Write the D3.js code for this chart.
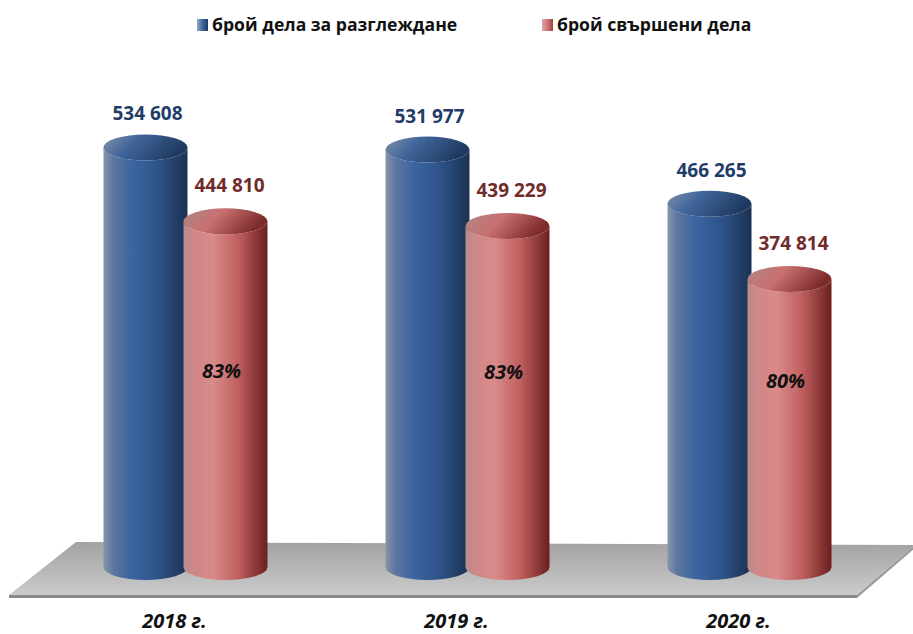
<!DOCTYPE html>
<html>
<head>
<meta charset="utf-8">
<script src="https://cdn.jsdelivr.net/npm/d3@7"></script>
<style>
  body { margin: 0; background: #fff; }
  text { font-family: "Open Sans", "Noto Sans", sans-serif; font-weight: bold; }
</style>
</head>
<body>
<div id="graph"></div>
<script>
var w = 913, h = 634

var years = ['2018 г.', '2019 г.', '2020 г.']
var pending = [534608, 531977, 466265]
var resolved = [444810, 439229, 374814]
var shares = ['83%', '83%', '80%']
var seriesNames = ['брой дела за разглеждане', 'брой свършени дела']

var fmt = d3.formatLocale({decimal: ',', thousands: ' ', grouping: [3], currency: ['', '']}).format(',')

var svg = d3.select('#graph').append('svg')
    .attr('width', w).attr('height', h)

var defs = svg.append('defs')

function grad(id, stops, x2, y2){
  var g = defs.append('linearGradient').attr('id', id)
      .attr('x1', 0).attr('y1', 0).attr('x2', x2).attr('y2', y2)
  stops.forEach(function(s){
    g.append('stop').attr('offset', s[0]).attr('stop-color', s[1])
  })
}
grad('blueBody', [[0, '#8594aa'], [0.12, '#5c76a0'], [0.35, '#3a64a0'], [0.65, '#2e5388'], [1, '#1b3152']], 1, 0)
grad('blueTop', [[0, '#8391a8'], [0.4, '#41669c'], [1, '#1f3a60']], 1, 0.3)
grad('redBody', [[0, '#b88c8c'], [0.12, '#cf8787'], [0.35, '#d98a8a'], [0.65, '#c05f5f'], [1, '#6b1f1f']], 1, 0)
grad('redTop', [[0, '#ad8686'], [0.45, '#c97070'], [1, '#7d2a2a']], 1, 0.3)
grad('floorFill', [[0, '#a2a2a2'], [1, '#cbcbcb']], 0, 1)
grad('legBlue', [[0, '#9aa9c0'], [0.5, '#3c66a2'], [1, '#1f3a60']], 1, 0)
grad('legRed', [[0, '#e0a5a5'], [0.5, '#d07878'], [1, '#a04040']], 1, 0)

// scales
var x = d3.scalePoint().domain(years).range([44.5, 890.5]).padding(0.5)
var y = d3.scaleLinear().domain([0, 600000]).range([587.6, 93.6])
var floorY = 567, rx = 42, ry = 13, off = 40

// floor
var floor = svg.append('g')
floor.append('path')
    .attr('d', 'M76,542 L915,545 L857,595 L9,595 Z')
    .attr('fill', 'url(#floorFill)')
floor.append('path')
    .attr('d', 'M9,595 L857,595 L857,598 L9,598 Z')
    .attr('fill', '#8a8a8a')
floor.append('path')
    .attr('d', 'M857,595 L915,545 L915,548 L857,598 Z')
    .attr('fill', '#9a9a9a')

function cylinder(g, cx, top, body, cap){
  var l = cx - rx, r = cx + rx
  g.append('path')
      .attr('d', 'M' + l + ',' + top + ' L' + l + ',' + floorY +
        ' A' + rx + ',' + ry + ' 0 0 0 ' + r + ',' + floorY +
        ' L' + r + ',' + top +
        ' A' + rx + ',' + ry + ' 0 0 1 ' + l + ',' + top + ' Z')
      .attr('fill', 'url(#' + body + ')')
  g.append('ellipse')
      .attr('cx', cx).attr('cy', top).attr('rx', rx).attr('ry', ry)
      .attr('fill', 'url(#' + cap + ')')
}

var bars = svg.append('g')
years.forEach(function(yr, i){
  cylinder(bars, x(yr) - off, y(pending[i]), 'blueBody', 'blueTop')
  cylinder(bars, x(yr) + off, y(resolved[i]), 'redBody', 'redTop')
})

// value labels
years.forEach(function(yr, i){
  svg.append('text')
      .attr('x', x(yr) - off + 2).attr('y', y(pending[i]) - 27)
      .attr('text-anchor', 'middle')
      .style('font-size', '19px').attr('fill', '#1f3d68')
      .text(fmt(pending[i]))
  svg.append('text')
      .attr('x', x(yr) + off + 4).attr('y', y(resolved[i]) - 29)
      .attr('text-anchor', 'middle')
      .style('font-size', '19px').attr('fill', '#722b2b')
      .text(fmt(resolved[i]))
  svg.append('text')
      .attr('x', x(yr) + off - 4).attr('y', 0.175 * y(resolved[i]) + 339)
      .attr('text-anchor', 'middle')
      .style('font-size', '20px').style('font-style', 'italic').attr('fill', '#111')
      .text(shares[i])
  svg.append('text')
      .attr('x', x(yr) - 11).attr('y', 628)
      .attr('text-anchor', 'middle')
      .style('font-size', '20px').style('font-style', 'italic').attr('fill', '#111')
      .text(yr)
})

// legend
var legend = svg.append('g')
var legX = [197, 542], legFill = ['legBlue', 'legRed']
seriesNames.forEach(function(name, i){
  legend.append('rect')
      .attr('x', legX[i]).attr('y', 19).attr('width', 11).attr('height', 12)
      .attr('fill', 'url(#' + legFill[i] + ')')
  legend.append('text')
      .attr('x', legX[i] + 15).attr('y', 31)
      .style('font-size', '17.6px').attr('fill', '#111')
      .text(name)
})
</script>
</body>
</html>
